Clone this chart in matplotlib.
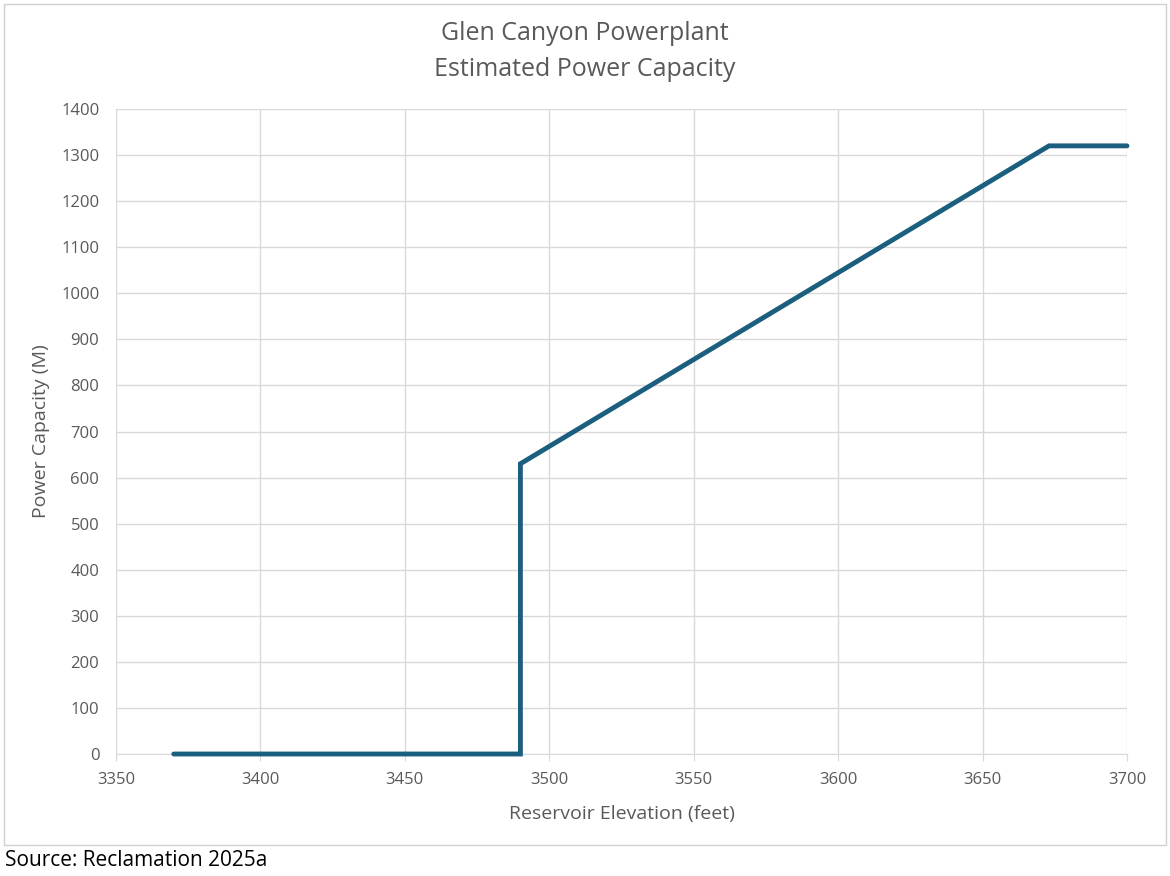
import numpy as np
import matplotlib.pyplot as plt
from matplotlib.patches import Rectangle

# Glen Canyon estimated capacity vs. reservoir elevation
elevation = [3370, 3490, 3490, 3673, 3700]
capacity = [0, 0, 630, 1320, 1320]

x_ticks = np.arange(3350, 3701, 50)
y_ticks = np.arange(0, 1401, 100)

plt.rcParams['font.family'] = ['Open Sans', 'DejaVu Sans']

fig = plt.figure(figsize=(11.7, 8.76), dpi=100)
ax = fig.add_axes([116/1170, 1 - 754/876, (1127-116)/1170, (754-109)/876])

ax.plot(elevation, capacity, color='#1b5e7e', lw=3.5, clip_on=False,
        solid_capstyle='round', solid_joinstyle='miter', zorder=3)

ax.set_xlim(3350, 3700)
ax.set_ylim(0, 1400)
ax.set_xticks(x_ticks)
ax.set_yticks(y_ticks)
ax.grid(True, color='#d9d9d9', lw=1)
for s in ['top', 'right', 'left']:
    ax.spines[s].set_visible(False)
ax.spines['bottom'].set_color('#d9d9d9')
ax.tick_params(axis='x', colors='#d9d9d9', labelcolor='#595959', length=5,
               labelsize=12, pad=8)
ax.tick_params(axis='y', length=0, labelcolor='#595959', labelsize=12, pad=12)

ax.set_xlabel('Reservoir Elevation (feet)', fontsize=14, color='#595959', labelpad=12)
ax.set_ylabel('Power Capacity (M)', fontsize=14, color='#595959', labelpad=8)

fig.text(0.5, 1 - 33/876, 'Glen Canyon Powerplant', ha='center', va='center',
         fontsize=18, color='#595959')
fig.text(0.5, 1 - 69/876, 'Estimated Power Capacity', ha='center', va='center',
         fontsize=18, color='#595959')

fig.patches.append(Rectangle((4/1170, 1 - 845/876), 1162/1170, 841/876,
                             transform=fig.transFigure, fill=False,
                             edgecolor='#d0d0d0', lw=1))

fig.text(5/1170, 1 - 860/876, 'Source: Reclamation 2025a', ha='left', va='center',
         fontsize=15, color='black')

fig.savefig('out.png', dpi=100)
